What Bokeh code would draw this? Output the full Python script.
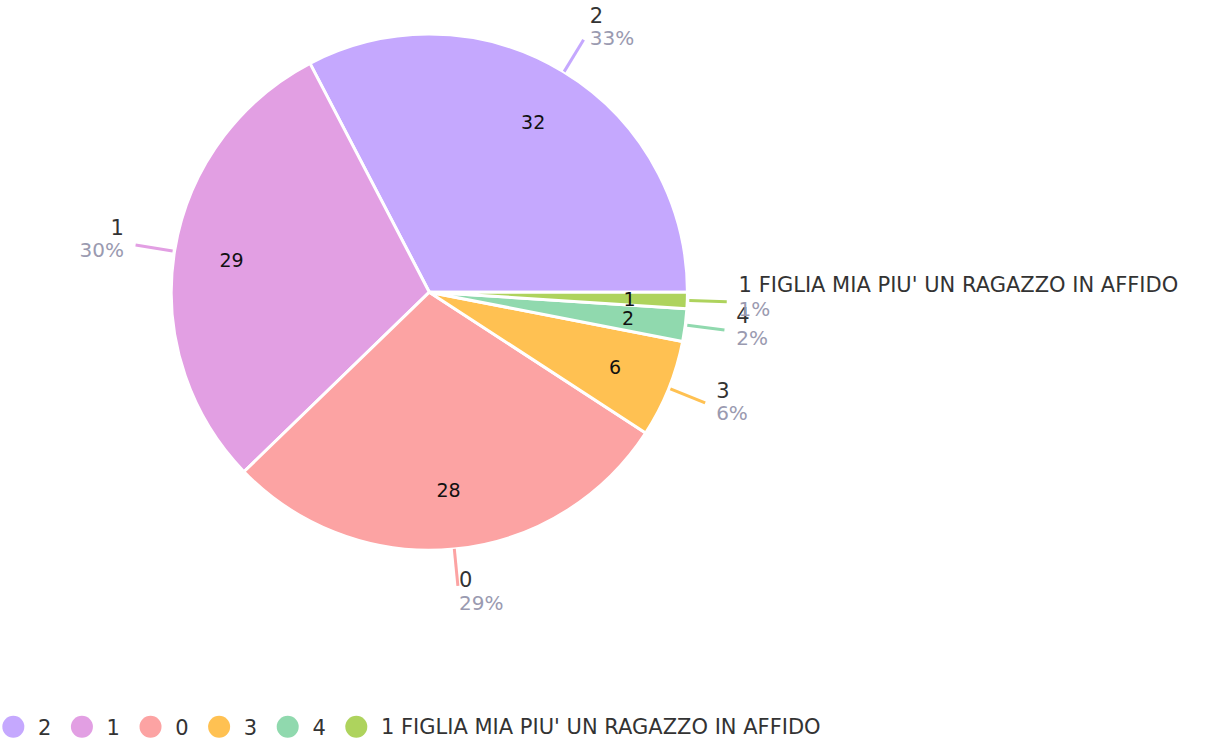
import math
from bokeh.plotting import figure
from bokeh.models import Range1d, ColumnDataSource
from bokeh.core.properties import value
from bokeh.embed import file_html
from bokeh.resources import INLINE

categories = ["2", "1", "0", "3", "4", "1 FIGLIA MIA PIU' UN RAGAZZO IN AFFIDO"]
values = [32, 29, 28, 6, 2, 1]
colors = ["#C5A8FE", "#E29FE3", "#FCA3A3", "#FFC152", "#90D9AE", "#AED35D"]

FONT = "DejaVu Sans"
W, H = 1212, 739
# data coords: reference-image pixels, x right, y = -(pixels down)
p = figure(width=W, height=H, output_backend="svg", toolbar_location=None,
           x_range=Range1d(0, 1228), y_range=Range1d(-755, 0),
           min_border=0, outline_line_color=None)
p.axis.visible = False
p.grid.visible = False
p.background_fill_color = "white"

cx, cy, R = 434.5, -298.0, 261.5
total = sum(values)

starts, ends, mids = [], [], []
acc = 0.0
for v in values:
    a0 = acc / total * 2 * math.pi
    acc += v
    a1 = acc / total * 2 * math.pi
    starts.append(a0)
    ends.append(a1)
    mids.append((a0 + a1) / 2)

src = ColumnDataSource(dict(start=starts, end=ends, color=colors))
p.wedge(x=cx, y=cy, radius=R, start_angle="start", end_angle="end",
        fill_color="color", line_color="white", line_width=3, source=src)

# leader lines
lx0 = [cx + (R + 2) * math.cos(m) for m in mids]
ly0 = [cy + (R + 2) * math.sin(m) for m in mids]
lx1 = [cx + (R + 40) * math.cos(m) for m in mids]
ly1 = [cy + (R + 40) * math.sin(m) for m in mids]
p.segment(x0=lx0, y0=ly0, x1=lx1, y1=ly1, line_color=colors, line_width=3)

# inner value labels
vx = [cx + 203 * math.cos(m) for m in mids]
vy = [cy + 203 * math.sin(m) for m in mids]
p.text(x=vx, y=vy, text=[str(v) for v in values], text_align="center",
       text_baseline="middle", text_font=value(FONT), text_font_size="19px",
       text_color="#111111")

# outer labels
pcts = ["%d%%" % round(v / total * 100) for v in values]
for i, m in enumerate(mids):
    c, s = math.cos(m), math.sin(m)
    tx = lx1[i] + 12 * c
    d = -5 - 10 * s  # offset in pixels down
    ycen = ly1[i] - d
    align = "left" if c >= 0 else "right"
    p.text(x=[tx], y=[ycen + 12], text=[categories[i]], text_align=align,
           text_baseline="middle", text_font=value(FONT), text_font_size="21px",
           text_color="#333333")
    p.text(x=[tx], y=[ycen - 12], text=[pcts[i]], text_align=align,
           text_baseline="middle", text_font=value(FONT), text_font_size="20px",
           text_color="#9a9ab0")

# legend
ly = -742
cxs = [13 + i * 69.5 for i in range(len(categories))]
p.scatter(x=cxs, y=[ly] * len(cxs), size=22, marker="circle",
          fill_color=colors, line_color=None)
p.text(x=[c + 25 for c in cxs], y=[ly] * len(cxs), text=categories,
       text_align="left", text_baseline="middle", text_font=value(FONT),
       text_font_size="21px", text_color="#333333")

open("out.html", "w").write(file_html(p, INLINE))
